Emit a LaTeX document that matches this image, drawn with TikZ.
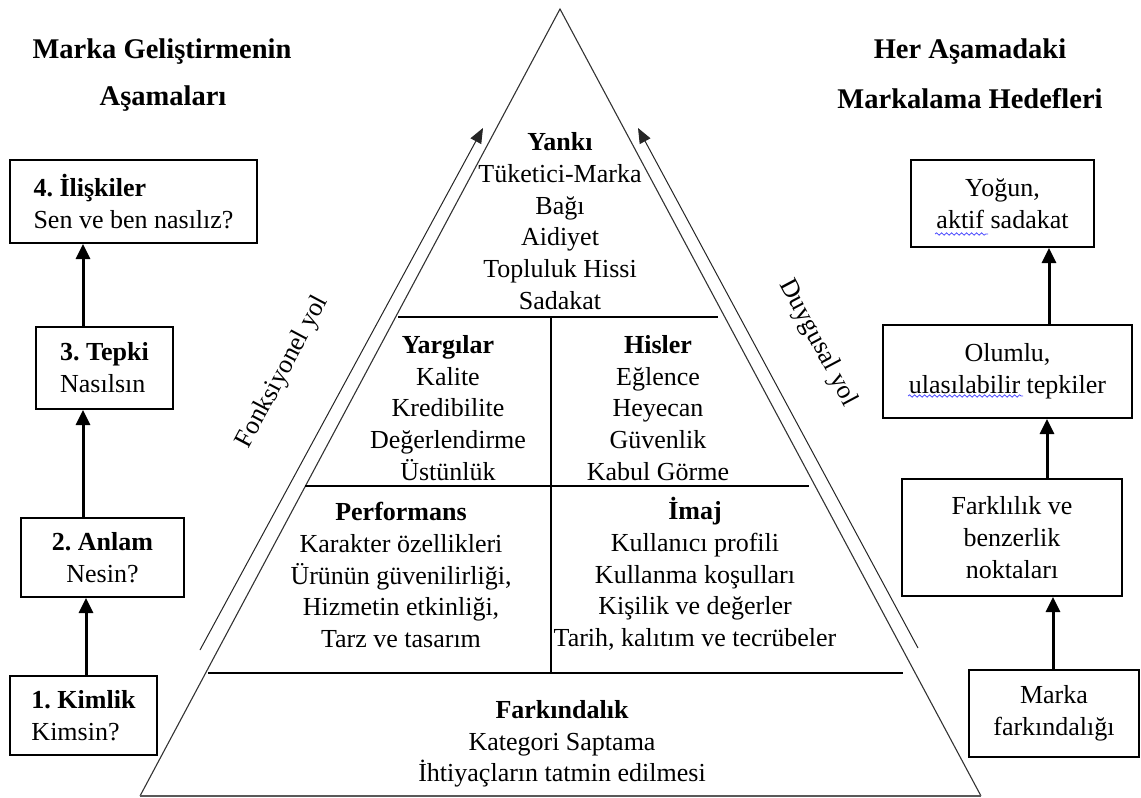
\documentclass[tikz,border=0pt]{standalone}
\usepackage{fontspec}
\setmainfont{Liberation Serif}
\usetikzlibrary{arrows.meta,decorations.pathmorphing}

\begin{document}
\frenchspacing
\begin{tikzpicture}[x=1pt,y=-1pt,
  body/.style={font=\fontsize{26}{31.7}\selectfont, align=center, inner sep=0pt},
  head/.style={font=\fontsize{28.5}{34}\selectfont\bfseries, inner sep=0pt},
  stage/.style={draw, line width=2pt, inner sep=0pt, font=\fontsize{26}{32}\selectfont},
  edge/.style={draw=black!80, line width=1.1pt},
  baseedge/.style={draw=black!65, line width=2pt},
  divider/.style={line width=2.4pt},
  uparrow/.style={line width=3pt, -{Triangle[length=15pt,width=14pt]}},
  pathline/.style={line width=1pt, black!85, -{Triangle[length=15pt,width=12pt]}},
  squiggle/.style={blue!70!white, line width=0.8pt, decorate,
    decoration={snake, amplitude=1.2pt, segment length=5pt}}
]
\useasboundingbox (0,0) rectangle (1141,798);

% headings
\node[head] (hl1) at (162,52) {Marka Geliştirmenin};
\node[head] (hl2) at (163,99) {Aşamaları};
\node[head] (hr1) at (970,52) {Her Aşamadaki};
\node[head] (hr2) at (970,99) {Markalama Hedefleri};

% pyramid outline
\coordinate (apex) at (560,9);
\coordinate (bl) at (140,796);
\coordinate (br) at (981,796);
\draw[edge] (bl) -- (apex) -- (br);
\draw[baseedge] (bl) -- (br);

% pyramid levels
\draw[divider] (398,317) -- (718,317);
\draw[divider] (305,486) -- (809,486);
\draw[divider] (208,673) -- (903,673);
\draw[divider] (551,317) -- (551,673);

\node[body] (yanki) at (560,221) {\textbf{Yankı}\\Tüketici-Marka\\Bağı\\Aidiyet\\Topluluk Hissi\\Sadakat};
\node[body] (yargi) at (448,408) {\textbf{Yargılar}\\Kalite\\Kredibilite\\Değerlendirme\\Üstünlük};
\node[body] (hisler) at (658,408) {\textbf{Hisler}\\Eğlence\\Heyecan\\Güvenlik\\Kabul Görme};
\node[body] (perf) at (401,575) {\textbf{Performans}\\Karakter özellikleri\\Ürünün güvenilirliği,\\Hizmetin etkinliği,\\Tarz ve tasarım};
\node[body] (imaj) at (695,574) {\textbf{İmaj}\\Kullanıcı profili\\Kullanma koşulları\\Kişilik ve değerler\\Tarih, kalıtım ve tecrübeler};
\node[body] (fark) at (562,744) {\textbf{Farkındalık}\\Kategori Saptama\\İhtiyaçların tatmin edilmesi};

% the two paths along the sides
\coordinate (fl0) at (200,650);
\coordinate (fl1) at (483,128);
\coordinate (fr0) at (918,648);
\coordinate (fr1) at (638,128);
\draw[pathline] (fl0) -- (fl1);
\draw[pathline] (fr0) -- (fr1);
\node[body, rotate=62] (fonk) at (283,372) {Fonksiyonel yol};
\node[body, rotate=-62] (duyg) at (818,343) {Duygusal yol};

% stages of brand building
\node[stage, minimum width=247pt, minimum height=83pt, align=left] (b4) at (133.5,201.5)
  {\textbf{4. İlişkiler}\\Sen ve ben nasılız?};
\node[stage, minimum width=137pt, minimum height=82pt, align=left] (b3) at (104.5,368)
  {\textbf{3. Tepki}\\Nasılsın};
\node[stage, minimum width=163pt, minimum height=79pt, align=center] (b2) at (102.5,557.5)
  {\textbf{2. Anlam}\\Nesin?};
\node[stage, minimum width=147pt, minimum height=79pt, align=left] (b1) at (83.5,715.5)
  {\textbf{1. Kimlik}\\Kimsin?};

\coordinate (al1) at (86,0);
\coordinate (al2) at (83,0);
\draw[uparrow] (b1.north -| al1) -- (b2.south -| al1);
\draw[uparrow] (b2.north -| al2) -- (b3.south -| al2);
\draw[uparrow] (b3.north -| al2) -- (b4.south -| al2);

% branding objectives
\node[stage, minimum width=183pt, minimum height=87pt, align=center] (g4) at (1002.5,203.5)
  {Yoğun,\\aktif sadakat};
\node[stage, minimum width=249pt, minimum height=93pt, align=center] (g3) at (1007.5,371.5)
  {Olumlu,\\ulasılabilir tepkiler};
\node[stage, minimum width=220pt, minimum height=117pt, align=center] (g2) at (1012,537.5)
  {Farklılık ve\\benzerlik\\noktaları};
\node[stage, minimum width=170pt, minimum height=87pt, align=center] (g1) at (1054,713.5)
  {Marka\\farkındalığı};

\coordinate (ar1) at (1053,0);
\coordinate (ar2) at (1047,0);
\coordinate (ar3) at (1049,0);
\draw[uparrow] (g1.north -| ar1) -- (g2.south -| ar1);
\draw[uparrow] (g2.north -| ar2) -- (g3.south -| ar2);
\draw[uparrow] (g3.north -| ar3) -- (g4.south -| ar3);

% spell-check marks under two words
\draw[squiggle] (935,234) -- (988,234);
\draw[squiggle] (908,396) -- (1023,396);
\end{tikzpicture}
\end{document}
